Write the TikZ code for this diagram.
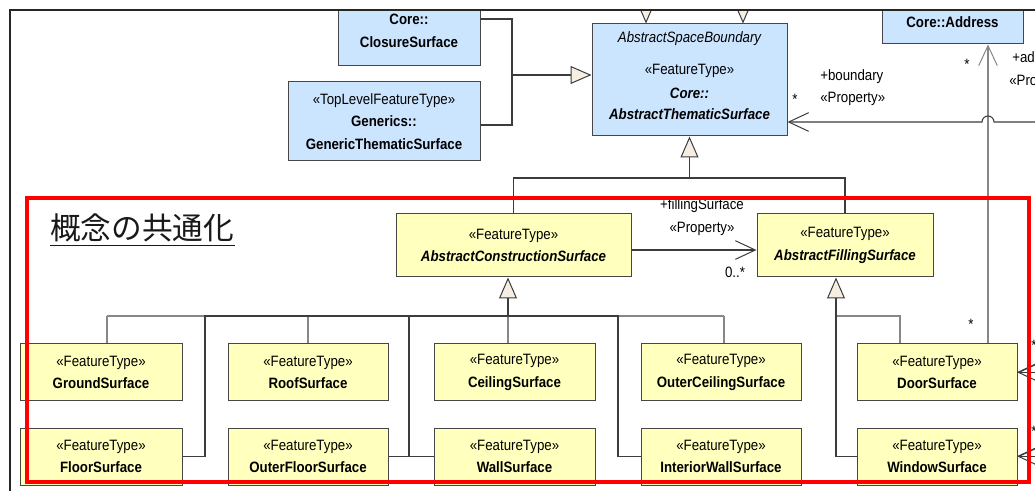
\documentclass[tikz,border=0pt]{standalone}
\usepackage{fontspec}
\setmainfont{Liberation Sans}[FakeStretch=0.885]
\newfontfamily\jpfont{Noto Sans CJK JP}
\usetikzlibrary{arrows.meta,calc}

\definecolor{bluefill}{RGB}{204,229,255}
\definecolor{yellowfill}{RGB}{255,255,190}
\definecolor{edgegray}{RGB}{70,70,70}
\definecolor{darkline}{RGB}{60,60,60}
\definecolor{lightline}{RGB}{135,135,135}
\definecolor{trifill}{RGB}{246,238,226}
\definecolor{framered}{RGB}{255,0,0}

\newcommand\umlfont{\fontsize{11.25pt}{16.9pt}\selectfont}

\tikzset{
  umlbox/.style={draw=edgegray, line width=0.75pt, inner sep=0pt, align=center, font=\umlfont},
  bluebox/.style={umlbox, fill=bluefill},
  yellowbox/.style={umlbox, fill=yellowfill},
  conn/.style={draw=darkline, line width=0.8pt},
  connlight/.style={draw=lightline, line width=0.8pt},
  gen/.style={-{Triangle[length=15.75pt,width=13.5pt,fill=trifill,line width=0.75pt]}},
  nav/.style={-{Straight Barb[length=15pt,width=14pt,line width=0.75pt]}},
  lbl/.style={font=\umlfont, inner sep=0pt},
  frameline/.style={draw=black!85, line width=1.5pt},
}

% \umlbox[style]{name}{x1}{y1}{x2}{y2}{text}, corners in pixel units
\newcommand\umlbox[7][]{%
  \node[#1, minimum width={(#5-#3)*0.75pt}, minimum height={(#6-#4)*0.75pt}]
    (#2) at ({(#3+#5)/2},{(#4+#6)/2}) {#7};}

\begin{document}
\begin{tikzpicture}[x=0.75pt,y=-0.75pt]
\useasboundingbox (0,0) rectangle (1035,491);
\fill[white] (0,0) rectangle (1035,491);

\begin{scope}
\clip (10,10) rectangle (1035,491);

% upper classes
\umlbox[bluebox]{closure}{338}{-4}{480}{66}{\textbf{Core::}\\\textbf{ClosureSurface}}
\umlbox[bluebox]{generic}{288}{82}{480}{161}{«TopLevelFeatureType»\\\textbf{Generics::}\\\textbf{GenericThematicSurface}}
\umlbox[bluebox]{ats}{592}{24}{787}{136}{}
\node[lbl, font=\umlfont\itshape] (atsSuper) at (689.5,39) {AbstractSpaceBoundary};
\node[lbl] (atsStereo) at (689.5,71) {«FeatureType»};
\node[lbl, font=\umlfont\bfseries\itshape] (atsPkg) at (689.5,93) {Core::};
\node[lbl, font=\umlfont\bfseries\itshape] (atsName) at (689.5,114) {AbstractThematicSurface};
\umlbox[bluebox]{address}{882}{0}{1023}{44}{\textbf{Core::Address}}

% abstract surfaces
\umlbox[yellowbox]{acs}{396}{214}{631}{277}{«FeatureType»\\\textbf{\textit{AbstractConstructionSurface}}}
\umlbox[yellowbox]{afs}{757}{214}{933}{277}{«FeatureType»\\\textbf{\textit{AbstractFillingSurface}}}

% concrete surfaces
\umlbox[yellowbox]{ground}{20}{344}{182}{401}{«FeatureType»\\\textbf{GroundSurface}}
\umlbox[yellowbox]{roof}{228}{344}{388}{401}{«FeatureType»\\\textbf{RoofSurface}}
\umlbox[yellowbox]{ceiling}{434}{344}{595}{401}{«FeatureType»\\\textbf{CeilingSurface}}
\umlbox[yellowbox]{outerceiling}{641}{344}{801}{401}{«FeatureType»\\\textbf{OuterCeilingSurface}}
\umlbox[yellowbox]{door}{857}{344}{1017}{401}{«FeatureType»\\\textbf{DoorSurface}}
\umlbox[yellowbox]{floor}{20}{428}{182}{485}{«FeatureType»\\\textbf{FloorSurface}}
\umlbox[yellowbox]{outerfloor}{228}{428}{388}{485}{«FeatureType»\\\textbf{OuterFloorSurface}}
\umlbox[yellowbox]{wall}{434}{428}{595}{485}{«FeatureType»\\\textbf{WallSurface}}
\umlbox[yellowbox]{iwall}{641}{428}{801}{485}{«FeatureType»\\\textbf{InteriorWallSurface}}
\umlbox[yellowbox]{window}{857}{428}{1017}{485}{«FeatureType»\\\textbf{WindowSurface}}

% bend and junction points
\coordinate (jC) at (512,19);
\coordinate (jM) at (512,75);
\coordinate (jG) at (512,125);
\coordinate (jATS) at (689.5,178);
\coordinate (jACS) at (508,316);
\coordinate (tGround) at (107,316);
\coordinate (tFloor) at (205,316);
\coordinate (tRoof) at (308,316);
\coordinate (tWall) at (409,316);
\coordinate (tIWall) at (618,316);
\coordinate (tOuterCeiling) at (724,316);
\coordinate (jAFS) at (836,316);
\coordinate (tDoor) at (900,316);
\coordinate (xAddr) at (988,0);
\coordinate (eBoundary) at (1040,122);
\coordinate (eDoor) at (1040,372.5);
\coordinate (eDoorB) at (1040,362);
\coordinate (eWindow) at (1040,456.5);
\coordinate (eWindowB) at (1040,446);
\coordinate (topA) at (646,0);
\coordinate (topB) at (743,0);

% generalisations into AbstractThematicSurface from above (cut by the frame)
\draw[conn,gen] (topA) -- (ats.north -| topA);
\draw[conn,gen] (topB) -- (ats.north -| topB);

% ClosureSurface / GenericThematicSurface -> AbstractThematicSurface
\draw[conn] (closure.east |- jC) -- (jC) -- (jG) -- (generic.east |- jG);
\draw[conn,gen] (jM) -- (ats.west |- jM);

% AbstractThematicSurface tree
\draw[conn] (acs.north) |- (jATS) -| (afs.north);
\draw[conn,gen] (jATS) -- (ats.south);

% fillingSurface association
\draw[conn,nav] ([yshift=-3.4pt]acs.east) -- ([yshift=-3.4pt]afs.west);

% AbstractConstructionSurface tree
\draw[connlight] (tGround) -- (tOuterCeiling);
\draw[connlight] (tGround) -- (ground.north -| tGround);
\draw[connlight] (tRoof) -- (roof.north -| tRoof);
\draw[connlight] (jACS) -- (ceiling.north -| jACS);
\draw[connlight] (tOuterCeiling) -- (outerceiling.north -| tOuterCeiling);
\draw[conn] (floor.east) -| (tFloor) -- (tIWall) |- (iwall.west);
\draw[conn] (tWall) |- (wall.west);
\draw[conn] (outerfloor.east) -- (wall.west);
\draw[conn,gen] (jACS) -- (acs.south -| jACS);

% AbstractFillingSurface tree
\draw[connlight] (jAFS) -- (tDoor) -- (door.north -| tDoor);
\draw[conn] (jAFS) |- (window.west);
\draw[conn,gen] (jAFS) -- (afs.south -| jAFS);

% address association
\draw[connlight,nav] (door.north -| xAddr) -- (address.south -| xAddr);

% boundary association with a hop over the address line
\draw[conn,nav] (eBoundary) -- (994,122) arc[start angle=0, end angle=-180, radius=6] -- (ats.east |- eBoundary);

% associations entering DoorSurface and WindowSurface from the right
\draw[conn,nav] (eDoor) -- (door.east);
\draw[conn] (eDoorB) -- (door.east);
\draw[conn,nav] (eWindow) -- (window.east);
\draw[conn] (eWindowB) -- (window.east);

% role names and multiplicities
\node[lbl, anchor=west] (lbBoundary) at (820,77) {+boundary};
\node[lbl, anchor=west] (lbBoundaryS) at (820,99) {«Property»};
\node[lbl] (mBoundary) at (795,99) {*};
\node[lbl] (lbFilling) at (702,206) {+fillingSurface};
\node[lbl] (lbFillingS) at (702,229) {«Property»};
\node[lbl] (mFilling) at (735,272) {0..*};
\node[lbl, anchor=west] (lbAddress) at (1012,57) {+ad};
\node[lbl, anchor=west] (lbAddressS) at (1009,80) {«Pro};
\node[lbl] (mAddress) at (967,64) {*};
\node[lbl] (mAddressB) at (971,324) {*};
\node[lbl] (mDoor) at (1034,345) {*};
\node[lbl] (mWindow) at (1034,431) {*};
\end{scope}

% outer frame
\draw[frameline] (10,491) -- (10,10) -- (1035,10);

% highlighted region
\draw[framered, line width=3pt] (27,198) rectangle (1029,482);
\node[font=\jpfont\fontsize{23pt}{23pt}\selectfont, anchor=base west, inner sep=0pt, text=black!90] (title) at (50,240) {概念の共通化};
\draw[black!90, line width=1pt] ([yshift=-4pt]title.base west) -- ([yshift=-4pt]title.base east);
\end{tikzpicture}
\end{document}
